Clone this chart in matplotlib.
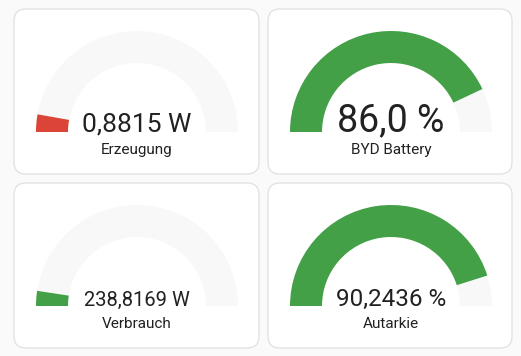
import matplotlib
matplotlib.use("Agg")
import matplotlib.pyplot as plt
from matplotlib.patches import Wedge, FancyBboxPatch

plt.rcParams['font.family'] = ['Roboto', 'DejaVu Sans']

# ---- data ----
names = ["Erzeugung", "BYD Battery", "Verbrauch", "Autarkie"]
value_labels = ["0,8815 W", "86,0 %", "238,8169 W", "90,2436 %"]
fill_fraction = [0.056, 0.860, 0.048, 0.9024]   # gauge fill
bar_colors = ["#DB4437", "#43A047", "#43A047", "#43A047"]
value_sizes = [19, 27, 14.5, 17.5]

# ---- layout (pixels) ----
W, H = 521, 356
fig = plt.figure(figsize=(W / 100, H / 100), dpi=100)
fig.patch.set_facecolor("#FAFAFA")
ax = fig.add_axes([0, 0, 1, 1])
ax.set_xlim(0, W)
ax.set_ylim(H, 0)
ax.set_aspect("equal")
ax.axis("off")

cards = [(14, 9, 245, 165), (268, 9, 244, 165), (14, 183, 245, 165), (268, 183, 244, 165)]
centers = [(137, 132), (391, 132), (137, 306), (391, 306)]
label_base = [154, 154, 328, 328]
R, r = 101, 69

for i in range(4):
    x, y, w, h = cards[i]
    ax.add_patch(FancyBboxPatch((x, y), w, h, boxstyle="round,pad=0,rounding_size=12",
                                facecolor="white", edgecolor="#E0E0E0", linewidth=0.9))
    cx, cy = centers[i]
    ax.add_patch(Wedge((cx, cy), R, 180, 360, width=R - r, facecolor="#F8F8F8",
                       edgecolor="none"))
    ang = 180 * fill_fraction[i]
    ax.add_patch(Wedge((cx, cy), R, 180, 180 + ang, width=R - r,
                       facecolor=bar_colors[i], edgecolor="none"))
    ax.text(cx, cy - 0.5, value_labels[i], ha="center", va="baseline",
            fontsize=value_sizes[i], color="#212121")
    ax.text(cx, label_base[i], names[i], ha="center", va="baseline",
            fontsize=11, color="#212121")

fig.savefig("out.png", dpi=100, facecolor=fig.get_facecolor())
